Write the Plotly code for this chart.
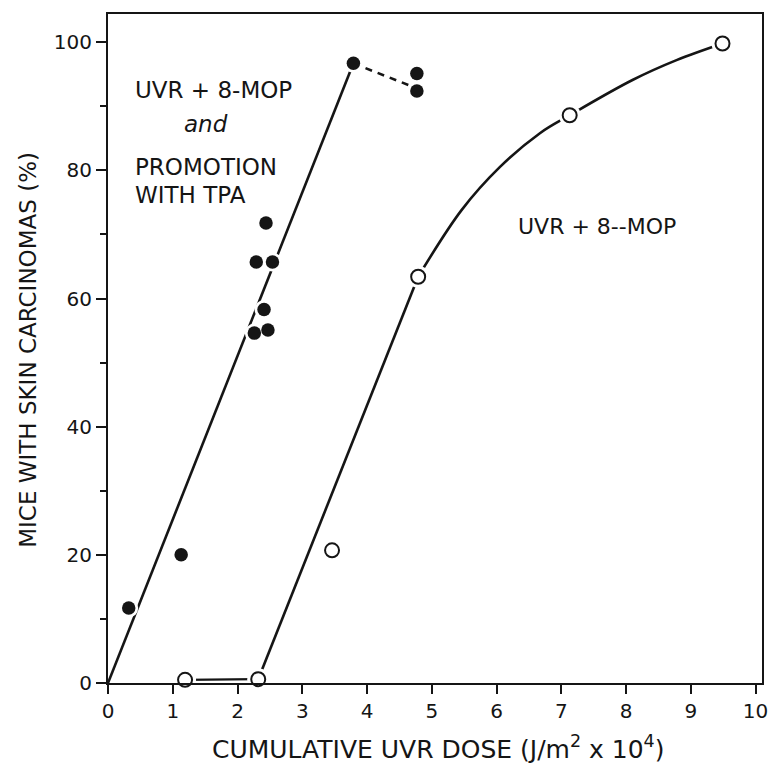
import plotly.graph_objects as go

# ---- data ----
# UVR + 8-MOP and promotion with TPA (filled circles)
tpa_x = [0.32, 1.13, 2.44, 2.29, 2.54, 2.41, 2.26, 2.47, 3.79, 4.77, 4.77]
tpa_y = [11.7, 20.0, 71.8, 65.7, 65.7, 58.3, 54.6, 55.1, 96.7, 95.1, 92.4]
# drawn lines for TPA group
tpa_line_x = [0.0, 3.79]
tpa_line_y = [0.0, 96.7]
tpa_dash_x = [3.79, 4.77]
tpa_dash_y = [96.7, 92.8]

# UVR + 8-MOP (open circles)
mop_x = [1.19, 2.32, 3.46, 4.79, 7.13, 9.49]
mop_y = [0.5, 0.6, 20.7, 63.4, 88.6, 99.8]
# drawn curve for UVR + 8-MOP
mop_flat_x = [1.19, 2.32]
mop_flat_y = [0.5, 0.6]
mop_rise_x = [2.32, 4.79]
mop_rise_y = [0.6, 63.4]
mop_curve_x = [4.79, 5.46, 6.05, 6.67, 7.13, 8.10, 8.78, 9.49]
mop_curve_y = [63.4, 73.8, 80.5, 85.8, 88.6, 94.1, 97.2, 99.8]

x_ticks = [0, 1, 2, 3, 4, 5, 6, 7, 8, 9, 10]
y_ticks = [0, 20, 40, 60, 80, 100]
y_minor = [10, 30, 50, 70, 90]

INK = "#151515"
FONT = "DejaVu Sans"

fig = go.Figure()

# lines
fig.add_trace(go.Scatter(x=tpa_line_x, y=tpa_line_y, mode="lines",
                         line=dict(color=INK, width=2.6), hoverinfo="skip"))
fig.add_trace(go.Scatter(x=tpa_dash_x, y=tpa_dash_y, mode="lines",
                         line=dict(color=INK, width=2.6, dash="7px,6px"), hoverinfo="skip"))
fig.add_trace(go.Scatter(x=mop_flat_x, y=mop_flat_y, mode="lines",
                         line=dict(color=INK, width=2.2), hoverinfo="skip"))
fig.add_trace(go.Scatter(x=mop_rise_x, y=mop_rise_y, mode="lines",
                         line=dict(color=INK, width=2.6), hoverinfo="skip"))
fig.add_trace(go.Scatter(x=mop_curve_x, y=mop_curve_y, mode="lines",
                         line=dict(color=INK, width=2.6, shape="spline", smoothing=1.0),
                         hoverinfo="skip"))

# white halos to make the gaps around markers
fig.add_trace(go.Scatter(x=tpa_x, y=tpa_y, mode="markers",
                         marker=dict(size=19, color="white", line=dict(width=0)),
                         hoverinfo="skip"))
fig.add_trace(go.Scatter(x=mop_x, y=mop_y, mode="markers",
                         marker=dict(size=22, color="white", line=dict(width=0)),
                         hoverinfo="skip"))

# markers
fig.add_trace(go.Scatter(x=tpa_x, y=tpa_y, mode="markers",
                         marker=dict(size=13.5, color=INK, line=dict(width=0)),
                         name="UVR + 8-MOP and promotion with TPA"))
fig.add_trace(go.Scatter(x=mop_x, y=mop_y, mode="markers",
                         marker=dict(size=14, color="white", line=dict(width=2, color=INK)),
                         name="UVR + 8-MOP"))

for tr in fig.data:
    tr.cliponaxis = False

ann_font = dict(family=FONT, size=23, color=INK)
annotations = [
    dict(x=0.39, y=92.5, text="UVR + 8-MOP", xanchor="left", yanchor="middle",
         showarrow=False, font=ann_font),
    dict(x=1.51, y=87.2, text="<i>and</i>", xanchor="center", yanchor="middle",
         showarrow=False, font=ann_font),
    dict(x=0.39, y=80.5, text="PROMOTION", xanchor="left", yanchor="middle",
         showarrow=False, font=ann_font),
    dict(x=0.39, y=76.1, text="WITH TPA", xanchor="left", yanchor="middle",
         showarrow=False, font=ann_font),
    dict(x=7.55, y=71.3, text="UVR + 8--MOP", xanchor="center", yanchor="middle",
         showarrow=False, font=dict(family=FONT, size=22, color=INK)),
    # axis titles
    dict(x=5.1, xref="x", y=0, yref="paper", yshift=-64,
         text="CUMULATIVE UVR DOSE (J/m<sup>2</sup> x 10<sup>4</sup>)",
         xanchor="center", yanchor="middle", showarrow=False,
         font=dict(family=FONT, size=25, color=INK)),
    dict(x=0, xref="paper", xshift=-80, y=52.0, yref="y",
         text="MICE WITH SKIN CARCINOMAS (%)", textangle=-90,
         xanchor="center", yanchor="middle", showarrow=False,
         font=dict(family=FONT, size=23, color=INK)),
]

fig.update_layout(
    width=772, height=758,
    margin=dict(l=100, r=18, t=6, b=83),
    paper_bgcolor="white", plot_bgcolor="white",
    showlegend=False,
    font=dict(family=FONT, size=20, color=INK),
    annotations=annotations,
    xaxis=dict(range=[0, 10.1], tickvals=x_ticks, ticktext=[str(v) for v in x_ticks],
               ticks="outside", ticklen=9, tickwidth=2, tickcolor=INK,
               showline=True, linewidth=2, linecolor=INK, mirror=True,
               showgrid=False, zeroline=False, automargin=False,
               tickfont=dict(family=FONT, size=20, color=INK)),
    yaxis=dict(range=[0, 104.4], tickvals=y_ticks, ticktext=[str(v) for v in y_ticks],
               ticks="outside", ticklen=10, tickwidth=2, tickcolor=INK,
               minor=dict(tickvals=y_minor, ticks="outside", ticklen=6,
                          tickwidth=2, tickcolor=INK, showgrid=False),
               showline=True, linewidth=2, linecolor=INK, mirror=True,
               showgrid=False, zeroline=False, automargin=False,
               tickfont=dict(family=FONT, size=20, color=INK)),
)

fig.write_html("out.html")
